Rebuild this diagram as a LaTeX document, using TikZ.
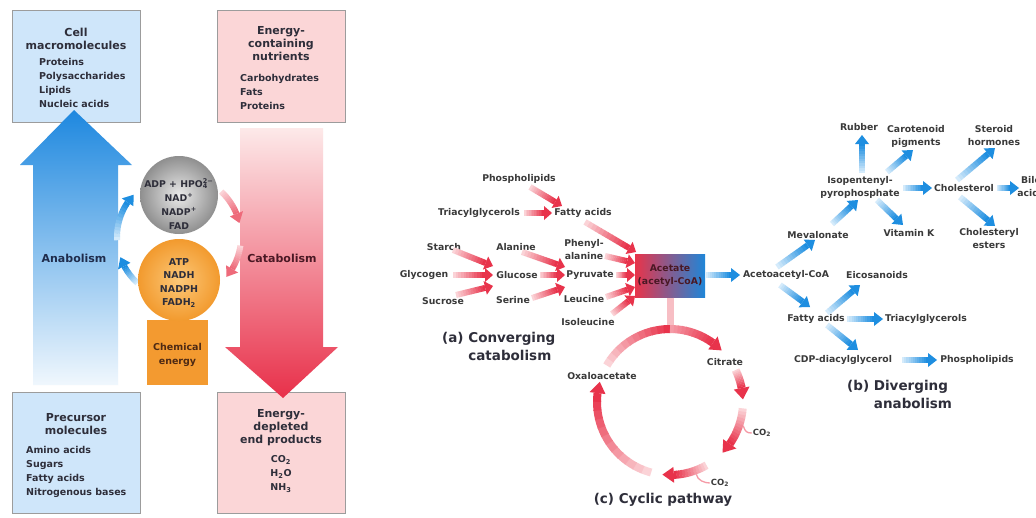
\documentclass[tikz,border=0pt]{standalone}
\usepackage{fontspec}
\setmainfont{DejaVu Sans}
\usetikzlibrary{calc}
\definecolor{boxblue}{HTML}{CFE6FA}
\definecolor{boxpink}{HTML}{FBD6D7}
\definecolor{boxline}{HTML}{9C9C9C}
\definecolor{anaTop}{HTML}{1E88DF}
\definecolor{anaBot}{HTML}{F0F7FD}
\definecolor{catTop}{HTML}{FDE9E9}
\definecolor{catMid}{HTML}{F5A9B1}
\definecolor{catBot}{HTML}{E8304A}
\definecolor{pA}{HTML}{FBD3D7}
\definecolor{pB}{HTML}{E8334B}
\definecolor{pSoft}{HTML}{EE6A7A}
\definecolor{bA}{HTML}{D5EBFB}
\definecolor{bB}{HTML}{1E8EE0}
\definecolor{grIn}{HTML}{EAEAEA}
\definecolor{grOut}{HTML}{8F8F8F}
\definecolor{orIn}{HTML}{FCC878}
\definecolor{orOut}{HTML}{F29A2E}
\definecolor{chemor}{HTML}{F39A30}
\definecolor{txt}{HTML}{2E2E3A}
\definecolor{txtR}{HTML}{3A3A3A}
\definecolor{anaTxt}{HTML}{1F2C4C}
\definecolor{catTxt}{HTML}{4A1824}
\definecolor{chemTxt}{HTML}{4E2A14}
\definecolor{acRed}{HTML}{E8344A}
\definecolor{acMid}{HTML}{F3D8E4}
\definecolor{acBlue}{HTML}{1E86D8}
\definecolor{stemc}{HTML}{F7BEC4}
\definecolor{ringA}{HTML}{F59AA6}

% straight gradient arrow: from, to, tail colour, head colour, body width, head half width, head length
\newcommand\garrow[7]{%
  \coordinate (ga-s) at (#1);
  \coordinate (ga-e) at (#2);
  \coordinate (ga-b) at ($(ga-e)!#7!(ga-s)$);
  \foreach \gi in {0,...,11}{%
    \pgfmathsetmacro\gpa{\gi/12}%
    \pgfmathsetmacro\gpb{min((\gi+1.1)/12,1)}%
    \pgfmathtruncatemacro\gpc{100-\gi*100/11}%
    \draw[line width=#5, #3!\gpc!#4] ($(ga-s)!\gpa!(ga-b)$) -- ($(ga-s)!\gpb!(ga-b)$);
  }%
  \fill[#4] ($(ga-b)!#6!90:(ga-e)$) -- (ga-e) -- ($(ga-b)!#6!-90:(ga-e)$) -- cycle;
}
% gradient arc body: centre, radius, a1, a2, colA, colB, width
\newcommand\garcb[7]{%
  \foreach \gi in {0,...,11}{%
    \pgfmathsetmacro\gaa{#3+(#4-#3)*\gi/12}%
    \pgfmathsetmacro\gab{#3+(#4-#3)*min(\gi+1.1,12)/12}%
    \pgfmathtruncatemacro\gpc{100-\gi*100/11}%
    \draw[line width=#7, #5!\gpc!#6] ($(#1)+(\gaa:#2)$) arc[start angle=\gaa, end angle=\gab, radius=#2];
  }%
}
% gradient arc with head: centre, r, a1, a2, colA, colB, width, head half width, head length (deg)
\newcommand\garcarrow[9]{%
  \pgfmathsetmacro\gbase{#4-sign(#4-#3)*#9}%
  \garcb{#1}{#2}{#3}{\gbase}{#5}{#6}{#7}%
  \pgfmathsetmacro\gro{#2+#8}%
  \pgfmathsetmacro\gri{#2-#8}%
  \fill[#6] ($(#1)+(\gbase:\gro)$) -- ($(#1)+(#4:#2)$) -- ($(#1)+(\gbase:\gri)$) -- cycle;
}

\begin{document}
\begin{tikzpicture}[x=1pt,y=-1pt,
  every node/.style={inner sep=1pt},
  lab/.style={font=\fontsize{9.3}{13}\selectfont\bfseries, text=txtR, align=center},
  ttl/.style={font=\fontsize{11}{13}\selectfont\bfseries, text=txt, align=center},
  lst/.style={font=\fontsize{9.5}{14}\selectfont\bfseries, text=txt, align=left, anchor=west},
  ctr/.style={font=\fontsize{9.5}{14}\selectfont\bfseries, text=txt, align=center},
  captxt/.style={font=\fontsize{13.5}{18}\selectfont\bfseries, text=txt, align=left},
  bbox/.style={draw=boxline, line width=0.8pt, minimum width=128pt, inner sep=0pt},
  bigtxt/.style={font=\fontsize{11}{13}\selectfont\bfseries}
]
\useasboundingbox[fill=white] (0,0) rectangle (1036,517);

% ---------- left panel boxes ----------
\node[bbox, fill=boxblue, minimum height=112pt] (cellbox) at (76,66) {};
\node[ttl] (celltitle) at (76,39) {Cell\\macromolecules};
\node[lst] (celllist) at (38,83) {Proteins\\Polysaccharides\\Lipids\\Nucleic acids};

\node[bbox, fill=boxpink, minimum height=112pt] (nutbox) at (281,66) {};
\node[ttl] (nuttitle) at (281,44) {Energy-\\containing\\nutrients};
\node[lst] (nutlist) at (239,92) {Carbohydrates\\Fats\\Proteins};

\node[bbox, fill=boxblue, minimum height=121pt] (prebox) at (76,452.5) {};
\node[ttl] (pretitle) at (76,424) {Precursor\\molecules};
\node[lst] (prelist) at (25,472) {Amino acids\\Sugars\\Fatty acids\\Nitrogenous bases};

\node[bbox, fill=boxpink, minimum height=121pt] (endbox) at (281,452.5) {};
\node[ttl] (endtitle) at (281,428) {Energy-\\depleted\\end products};
\node[ctr] (endlist) at (281,474) {CO\textsubscript{2}\\H\textsubscript{2}O\\NH\textsubscript{3}};

% ---------- big arrows ----------
\shade[top color=anaTop, bottom color=anaBot]
  (33,385) -- (33,165) -- (20,165) -- (74,110) -- (132,165) -- (118,165) -- (118,385) -- cycle;
\shade[top color=catTop, middle color=catMid, bottom color=catBot]
  (240,128) -- (240,347) -- (225,347) -- (283,398) -- (338,347) -- (323,347) -- (323,128) -- cycle;
\node[bigtxt, text=anaTxt] (anab) at (74,258) {Anabolism};
\node[bigtxt, text=catTxt] (catab) at (282,258) {Catabolism};

% ---------- small cycle arrows ----------
\coordinate (L) at (179,237);
\garcarrow{L}{62}{-47}{-13}{pA}{pSoft}{6pt}{7}{9}
\garcarrow{L}{62}{8}{40}{pA}{pSoft}{6pt}{7}{9}
\garcarrow{L}{62}{132}{161}{bA}{bB}{6pt}{7}{9}
\garcarrow{L}{62}{177}{223}{bA}{bB}{6pt}{7}{9}

% ---------- circles and chemical energy ----------
\node[fill=chemor, minimum width=61pt, minimum height=65pt, inner sep=0pt] (chem) at (177.5,352.5) {};
\node[ctr, text=chemTxt] (chemtxt) at (177.5,355) {Chemical\\energy};
\node[circle, minimum size=78pt, inner sep=0pt, inner color=grIn, outer color=grOut] (gray) at (179,195) {};
\node[ctr, font=\fontsize{9.3}{14}\selectfont\bfseries] (graytxt) at (179,204)
  {ADP + HPO\rlap{\textsuperscript{2−}}\textsubscript{4}\hphantom{\textsuperscript{−}}\\NAD\textsuperscript{+}\\NADP\textsuperscript{+}\\FAD};
\node[circle, minimum size=82pt, inner sep=0pt, inner color=orIn, outer color=orOut] (orange) at (179,280) {};
\node[ctr, font=\fontsize{9.5}{13.5}\selectfont\bfseries] (orangetxt) at (179,283)
  {ATP\\NADH\\NADPH\\FADH\textsubscript{2}};

% ---------- (a) converging ----------
\node[lab] (phos) at (519,179) {Phospholipids};
\node[lab] (triac) at (479,213) {Triacylglycerols};
\node[lab] (fattyA) at (583,213) {Fatty acids};
\node[lab] (starch) at (444,247) {Starch};
\node[lab] (glycogen) at (424,275) {Glycogen};
\node[lab] (sucrose) at (443,301) {Sucrose};
\node[lab] (alanine) at (516,247) {Alanine};
\node[lab] (glucose) at (517,275) {Glucose};
\node[lab] (serine) at (513,300) {Serine};
\node[lab] (phenyl) at (584,250) {Phenyl-\\alanine};
\node[lab] (pyruvate) at (590,275) {Pyruvate};
\node[lab] (leucine) at (584,299) {Leucine};
\node[lab] (isoleucine) at (588,322) {Isoleucine};
\node[lab, text=catTxt, left color=acRed, middle color=acMid, right color=acBlue,
      minimum width=70pt, minimum height=43pt, inner sep=0pt] (acetate) at (670,276) {Acetate\\(acetyl-CoA)};

\garrow{$(phos)+(11,8)$}{$(fattyA)+(-21,-7)$}{pA}{pB}{6pt}{7pt}{8pt}
\garrow{$(triac)+(45,0)$}{$(fattyA)+(-31,0)$}{pA}{pB}{6pt}{7pt}{8pt}
\garrow{$(fattyA)+(2,9)$}{$(acetate)+(-34,-24)$}{pA}{pB}{6pt}{7pt}{8pt}
\garrow{$(starch)+(9,3)$}{$(glucose)+(-24,-9)$}{pA}{pB}{6pt}{7pt}{8pt}
\garrow{$(glycogen)+(29,0)$}{$(glucose)+(-24,0)$}{pA}{pB}{6pt}{7pt}{8pt}
\garrow{$(sucrose)+(13,-6)$}{$(glucose)+(-24,11)$}{pA}{pB}{6pt}{7pt}{8pt}
\garrow{$(alanine)+(6,5)$}{$(pyruvate)+(-25,-8)$}{pA}{pB}{6pt}{7pt}{8pt}
\garrow{$(glucose)+(23,0)$}{$(pyruvate)+(-25,0)$}{pA}{pB}{6pt}{7pt}{8pt}
\garrow{$(serine)+(19,-2)$}{$(pyruvate)+(-25,12)$}{pA}{pB}{6pt}{7pt}{8pt}
\garrow{$(phenyl)+(21,6)$}{$(acetate)+(-35,-13)$}{pA}{pB}{6pt}{7pt}{8pt}
\garrow{$(pyruvate)+(26,0)$}{$(acetate)+(-35,-1)$}{pA}{pB}{6pt}{7pt}{8pt}
\garrow{$(leucine)+(22,-2)$}{$(acetate)+(-35,11)$}{pA}{pB}{6pt}{7pt}{8pt}
\garrow{$(isoleucine)+(24,-8)$}{$(acetate)+(-35,20)$}{pA}{pB}{6pt}{7pt}{8pt}

\node[captxt, anchor=west] (capa) at (441,347) {(a) Converging\\\phantom{(a) }catabolism};

% ---------- (b) diverging ----------
\node[lab] (acetoac) at (786,275) {Acetoacetyl-CoA};
\node[lab] (mevalonate) at (818,235) {Mevalonate};
\node[lab] (isopent) at (860,187) {Isopentenyl-\\pyrophosphate};
\node[lab] (rubber) at (859,127) {Rubber};
\node[lab] (carot) at (916,136) {Carotenoid\\pigments};
\node[lab] (vitk) at (909,233) {Vitamin K};
\node[lab] (chol) at (964,188) {Cholesterol};
\node[lab] (steroid) at (994,136) {Steroid\\hormones};
\node[lab] (bile) at (1031,187) {Bile\\acids};
\node[lab] (cholest) at (989,239) {Cholesteryl\\esters};
\node[lab] (eicos) at (877,275) {Eicosanoids};
\node[lab] (fattyB) at (816,319) {Fatty acids};
\node[lab] (triacB) at (926,319) {Triacylglycerols};
\node[lab] (cdp) at (843,360) {CDP-diacylglycerol};
\node[lab] (phosB) at (977,360) {Phospholipids};

\garrow{$(acetate)+(36,-1)$}{$(acetoac)+(-46,0)$}{bA}{bB}{6pt}{7pt}{9pt}
\garrow{$(acetoac)+(-9,-8)$}{$(mevalonate)+(-3,5)$}{bA}{bB}{6pt}{7pt}{9pt}
\garrow{$(acetoac)+(-6,10)$}{$(fattyB)+(-6,-12)$}{bA}{bB}{6pt}{7pt}{9pt}
\garrow{$(mevalonate)+(14,-11)$}{$(isopent)+(-2,13)$}{bA}{bB}{6pt}{7pt}{9pt}
\garrow{$(isopent)+(2,-14)$}{$(rubber)+(3,8)$}{bA}{bB}{6pt}{7pt}{9pt}
\garrow{$(isopent)+(27,-15)$}{$(carot)+(-3,14)$}{bA}{bB}{6pt}{7pt}{9pt}
\garrow{$(isopent)+(43,1)$}{$(chol)+(-32,0)$}{bA}{bB}{6pt}{7pt}{9pt}
\garrow{$(isopent)+(17,13)$}{$(vitk)+(-6,-8)$}{bA}{bB}{6pt}{7pt}{9pt}
\garrow{$(chol)+(-7,-8)$}{$(steroid)+(1,12)$}{bA}{bB}{6pt}{7pt}{9pt}
\garrow{$(chol)+(33,0)$}{$(bile)+(-12,1)$}{bA}{bB}{6pt}{7pt}{9pt}
\garrow{$(chol)+(-4,9)$}{$(cholest)+(6,-13)$}{bA}{bB}{6pt}{7pt}{9pt}
\garrow{$(fattyB)+(11,-6)$}{$(eicos)+(-17,10)$}{bA}{bB}{6pt}{7pt}{9pt}
\garrow{$(fattyB)+(31,0)$}{$(triacB)+(-43,0)$}{bA}{bB}{6pt}{7pt}{9pt}
\garrow{$(fattyB)+(11,6)$}{$(cdp)+(15,-10)$}{bA}{bB}{6pt}{7pt}{9pt}
\garrow{$(cdp)+(59,0)$}{$(phosB)+(-40,0)$}{bA}{bB}{6pt}{7pt}{9pt}

\node[captxt, anchor=west] (capb) at (846,395) {(b) Diverging\\\phantom{(b) }anabolism};

% ---------- (c) cyclic ----------
\coordinate (cyc) at (670,402);
\coordinate (cyctop) at ($(cyc)+(270:73)$);
\draw[line width=7pt, stemc] (acetate.south) -- (cyctop);
\garcb{cyc}{73}{210}{270}{pA}{pB}{8pt}
\garcarrow{cyc}{73}{270}{315}{ringA}{pB}{8pt}{8}{9}
\garcarrow{cyc}{73}{334}{358}{pA}{pB}{8pt}{8}{9}
\garcarrow{cyc}{73}{5}{44}{pA}{pB}{8pt}{8}{9}
\garcarrow{cyc}{73}{60}{96}{pA}{pB}{8pt}{8}{9}
\garcarrow{cyc}{73}{105}{196}{pA}{pB}{8pt}{8}{9}

\node[lab] (citrate) at (725,362) {Citrate};
\node[lab] (oxalo) at (602,376) {Oxaloacetate};
\node[lab, font=\fontsize{8.5}{10}\selectfont\bfseries] (co2a) at (762,433) {CO\textsubscript{2}};
\node[lab, font=\fontsize{8.5}{10}\selectfont\bfseries] (co2b) at (720,483) {CO\textsubscript{2}};
\coordinate (ta) at ($(cyc)+(18:77)$);
\coordinate (tb) at ($(cyc)+(70:77)$);
\draw[line width=1.3pt, ringA] (ta) .. controls +(2,6) and +(-5,0) .. (co2a.west);
\draw[line width=1.3pt, ringA] (tb) .. controls +(1,6) and +(-5,0) .. (co2b.west);

\node[captxt] (capc) at (663,500) {(c) Cyclic pathway};
\end{tikzpicture}
\end{document}
